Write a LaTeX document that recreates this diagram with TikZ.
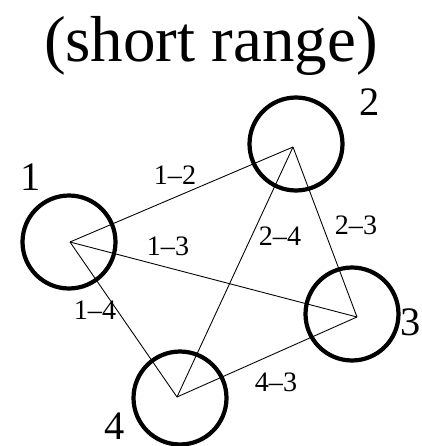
\documentclass[tikz,border=0pt]{standalone}
\usepackage{fontspec}
\setmainfont{Liberation Serif}
\usetikzlibrary{positioning}
\tikzset{
  station/.style = {
    circle, draw=black, line width=2.4pt,
    minimum size=1.86cm, inner sep=0pt
  },
  stationlabel/.style = {
    inner sep=0pt, font=\fontsize{23}{26}\selectfont
  },
  linklabel/.style = {
    inner sep=1pt, font=\fontsize{16}{19}\selectfont
  },
  link/.style = {line width=0.5pt}
}

\begin{document}
\begin{tikzpicture}[x=0.02cm, y=-0.02cm]
  \useasboundingbox (0,0) rectangle (422,446);

  % Title
  \node[font=\fontsize{37}{42}\selectfont, inner sep=0pt] (title) at (211,46) {(short range)};

  % Nodes
  \node[station] (c1) at (69,242) {};
  \node[station] (c2) at (296,144) {};
  \node[station] (c3) at (352,314) {};
  \node[station] (c4) at (180,398) {};
  \coordinate (p1) at (70,242);
  \coordinate (p2) at (293,147);
  \coordinate (p3) at (357,317);
  \coordinate (p4) at (177,397);

  \node[stationlabel] (n1) at (31,177) {1};
  \node[stationlabel] (n2) at (370,102) {2};
  \node[stationlabel] (n3) at (411,322) {3};
  \node[stationlabel] (n4) at (115,426) {4};

  % Connections
  \draw[link] (p1) -- (p2);
  \draw[link] (p1) -- (p3);
  \draw[link] (p1) -- (p4);
  \draw[link] (p2) -- (p3);
  \draw[link] (p2) -- (p4);
  \draw[link] (p4) -- (p3);

  \node[linklabel] (l12) at (175,175) {1--2};
  \node[linklabel] (l13) at (168,246) {1--3};
  \node[linklabel] (l14) at (95,310) {1--4};
  \node[linklabel] (l23) at (356,225) {2--3};
  \node[linklabel] (l24) at (280,236) {2--4};
  \node[linklabel] (l43) at (276,382) {4--3};
\end{tikzpicture}
\end{document}
